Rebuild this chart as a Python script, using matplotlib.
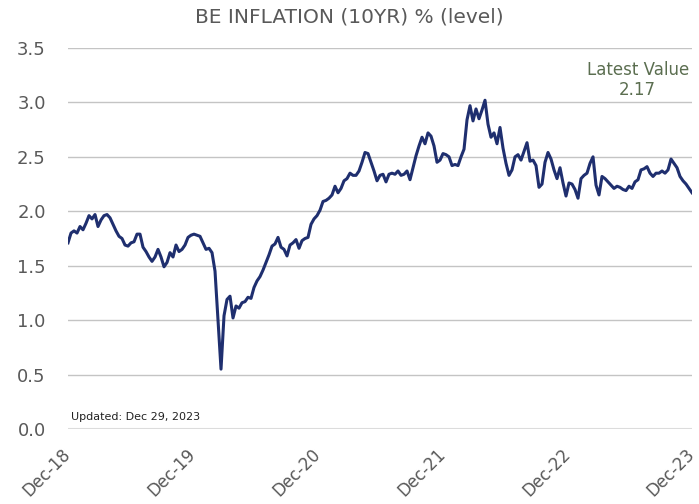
import pandas as pd
import matplotlib.pyplot as plt

# 10yr breakeven inflation (roughly every 9 days)
values = [
    1.71, 1.80, 1.82, 1.80, 1.86, 1.83, 1.89, 1.96, 1.93, 1.97,
    1.86, 1.92, 1.96, 1.97, 1.94, 1.88, 1.82, 1.77, 1.75, 1.69,
    1.68, 1.71, 1.72, 1.79, 1.79, 1.67, 1.63, 1.58, 1.54, 1.58,
    1.65, 1.58, 1.49, 1.53, 1.62, 1.58, 1.69, 1.63, 1.65, 1.69,
    1.76, 1.78, 1.79, 1.78, 1.77, 1.71, 1.65, 1.66, 1.62, 1.45,
    1.00, 0.55, 1.04, 1.19, 1.22, 1.02, 1.13, 1.11, 1.16, 1.17,
    1.21, 1.20, 1.30, 1.36, 1.40, 1.46, 1.53, 1.60, 1.68, 1.70,
    1.76, 1.67, 1.65, 1.59, 1.69, 1.71, 1.74, 1.66, 1.73, 1.75,
    1.76, 1.88, 1.93, 1.96, 2.01, 2.09, 2.10, 2.12, 2.15, 2.23,
    2.17, 2.21, 2.28, 2.30, 2.35, 2.33, 2.33, 2.37, 2.45, 2.54,
    2.53, 2.45, 2.37, 2.28, 2.33, 2.34, 2.27, 2.34, 2.35, 2.34,
    2.37, 2.33, 2.34, 2.37, 2.29, 2.40, 2.51, 2.60, 2.68, 2.62,
    2.72, 2.69, 2.60, 2.45, 2.47, 2.53, 2.52, 2.50, 2.42, 2.43,
    2.42, 2.50, 2.57, 2.84, 2.97, 2.83, 2.94, 2.85, 2.93, 3.02,
    2.80, 2.68, 2.72, 2.62, 2.77, 2.58, 2.44, 2.33, 2.38, 2.50,
    2.52, 2.47, 2.55, 2.63, 2.46, 2.47, 2.42, 2.22, 2.25, 2.45,
    2.54, 2.48, 2.38, 2.30, 2.40, 2.26, 2.14, 2.26, 2.25, 2.20,
    2.12, 2.30, 2.33, 2.35, 2.44, 2.50, 2.24, 2.15, 2.32, 2.30,
    2.27, 2.24, 2.21, 2.23, 2.22, 2.20, 2.19, 2.23, 2.21, 2.27,
    2.29, 2.38, 2.39, 2.41, 2.35, 2.32, 2.35, 2.35, 2.37, 2.35,
    2.38, 2.48, 2.44, 2.40, 2.32, 2.28, 2.25, 2.21, 2.17,
]
start, end = "2018-12-31", "2023-12-29"
tick_dates = ["2018-12-31", "2019-12-31", "2020-12-31",
              "2021-12-31", "2022-12-31", "2023-12-29"]
tick_labels = ["Dec-18", "Dec-19", "Dec-20", "Dec-21", "Dec-22", "Dec-23"]
latest = values[-1]

dates = pd.date_range(start, end, periods=len(values))

grey = "#595959"
fig = plt.figure(figsize=(6.99, 5.04), dpi=100)
ax = fig.add_axes([0.0973, 0.1488, 0.8927, 0.756])

ax.plot(dates, values, color="#1f2f6f", lw=2.2, solid_joinstyle="round")

ax.set_xlim(pd.Timestamp(start), pd.Timestamp(end))
ax.set_ylim(0, 3.5)
ax.set_yticks([0, 0.5, 1.0, 1.5, 2.0, 2.5, 3.0, 3.5])
ax.yaxis.set_major_formatter(plt.FormatStrFormatter("%.1f"))
ax.set_xticks(pd.to_datetime(tick_dates))
ax.set_xticklabels(tick_labels, rotation=45, ha="right", va="center",
                   rotation_mode="anchor")

ax.grid(axis="y", color="#c4c4c4", lw=1)
ax.axhline(0, color="#e2e2e2", lw=1.5, zorder=0)
ax.set_axisbelow(True)
for s in ax.spines.values():
    s.set_visible(False)
ax.tick_params(axis="y", length=0, pad=16, labelsize=13, labelcolor=grey)
ax.tick_params(axis="x", length=0, pad=16, labelsize=12, labelcolor=grey)

fig.text(0.5, 0.966, "BE INFLATION (10YR) % (level)", ha="center",
         va="center", fontsize=14.5, color=grey)

ax.text(0.913, 0.965, f"Latest Value\n{latest:.2f}", transform=ax.transAxes,
        ha="center", va="top", fontsize=12, color="#5b6e50",
        linespacing=1.1)
ax.text(0.004, 0.018, "Updated: Dec 29, 2023", transform=ax.transAxes,
        ha="left", va="bottom", fontsize=8, color="#222222")

fig.savefig("out.png", dpi=100)
